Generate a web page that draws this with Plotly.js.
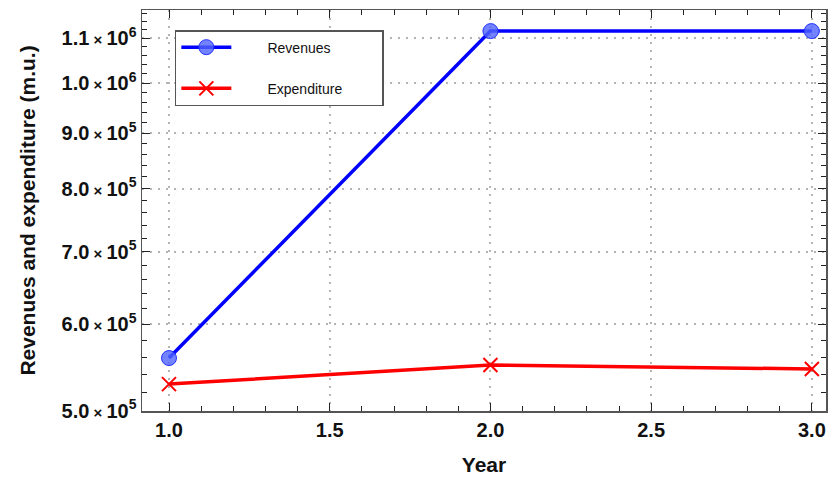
<!DOCTYPE html>
<html><head><meta charset="utf-8">
<script src="https://cdn.plot.ly/plotly-3.0.1.min.js"></script>
<style>html,body{margin:0;padding:0;background:#fff}</style>
</head><body>
<div id="chart" style="width:829px;height:480px"></div>
<script>
const years = [1, 2, 3];
const revenues = [558800, 1117000, 1117000];
const expenditure = [528800, 550600, 546000];
const yTickVals = [500000, 600000, 700000, 800000, 900000, 1000000, 1100000];
const yTickMant = ['5.0', '6.0', '7.0', '8.0', '9.0', '1.0', '1.1'];
const yTickExp = ['5', '5', '5', '5', '5', '6', '6'];
const xTickVals = [1.0, 1.5, 2.0, 2.5, 3.0];
const xTickText = ['1.0', '1.5', '2.0', '2.5', '3.0'];

const yTickText = yTickMant.map((m, i) => m + "<span style='font-size:15px'> × </span>10<sup>" + yTickExp[i] + "</sup>");
const yMinor = [];
for (let v = 500000; v <= 1160000; v += 20000) { if (v % 100000 !== 0) yMinor.push(v); }
const xMinor = [];
for (let k = 9; k <= 30; k++) { if (k % 5 !== 0) xMinor.push(k / 10); }

const sp = n => '\u00a0'.repeat(n);
const traces = [
  {x: years, y: revenues, name: sp(8) + 'Revenues' + sp(12), legendgroup: 'a', mode: 'lines+markers',
   line: {color: '#0000ff', width: 3.5},
   marker: {symbol: 'circle', size: 15, color: 'rgba(80,100,255,0.8)', line: {color: '#2233ff', width: 1}}},
  {x: years, y: expenditure, name: sp(8) + 'Expenditure', legendgroup: 'b', mode: 'lines+markers',
   line: {color: '#ff0000', width: 3.5},
   marker: {symbol: 'x-thin-open', size: 14, color: '#ff0000', line: {color: '#ff0000', width: 2}}}
];

const fnt = (s) => ({family: 'Liberation Sans, Arial', size: s, color: '#111', weight: 'bold'});
const axisCommon = {
  showline: true, linecolor: '#555', linewidth: 1.5, mirror: 'ticks',
  ticks: 'inside', ticklen: 8, tickwidth: 1, tickcolor: '#222',
  showgrid: true, gridcolor: '#b4b4b4', griddash: '2px,6px', gridwidth: 2,
  zeroline: false,
  tickfont: fnt(20)
};

const layout = {
  width: 829, height: 480,
  margin: {l: 142, r: 3, t: 10, b: 69},
  paper_bgcolor: '#fff', plot_bgcolor: '#fff',
  showlegend: true,
  legend: {x: 0.048, y: 0.95, xanchor: 'left', yanchor: 'top',
    bgcolor: '#fff', bordercolor: '#555', borderwidth: 1.5,
    font: {family: 'Liberation Sans, Arial', size: 14, color: '#111'},
    itemwidth: 50, tracegroupgap: 20},
  xaxis: Object.assign({}, axisCommon, {
    range: [0.916, 3.044],
    tickmode: 'array', tickvals: xTickVals, ticktext: xTickText,
    minor: {tickmode: 'array', tickvals: xMinor, ticklen: 5, tickcolor: '#222', ticks: 'inside', showgrid: false},
    title: {text: 'Year', font: fnt(21), standoff: 18}
  }),
  yaxis: Object.assign({}, axisCommon, {
    type: 'log',
    range: [Math.log10(499500), Math.log10(1168000)],
    tickmode: 'array', tickvals: yTickVals, ticktext: yTickText,
    ticklabelstandoff: 0,
    minor: {tickmode: 'array', tickvals: yMinor, ticklen: 5, tickcolor: '#222', ticks: 'inside', showgrid: false},
    title: {text: 'Revenues and expenditure (m.u.)', font: fnt(21), standoff: 20}
  })
};

Plotly.newPlot('chart', traces, layout, {displayModeBar: false, staticPlot: true});
</script>
</body></html>
